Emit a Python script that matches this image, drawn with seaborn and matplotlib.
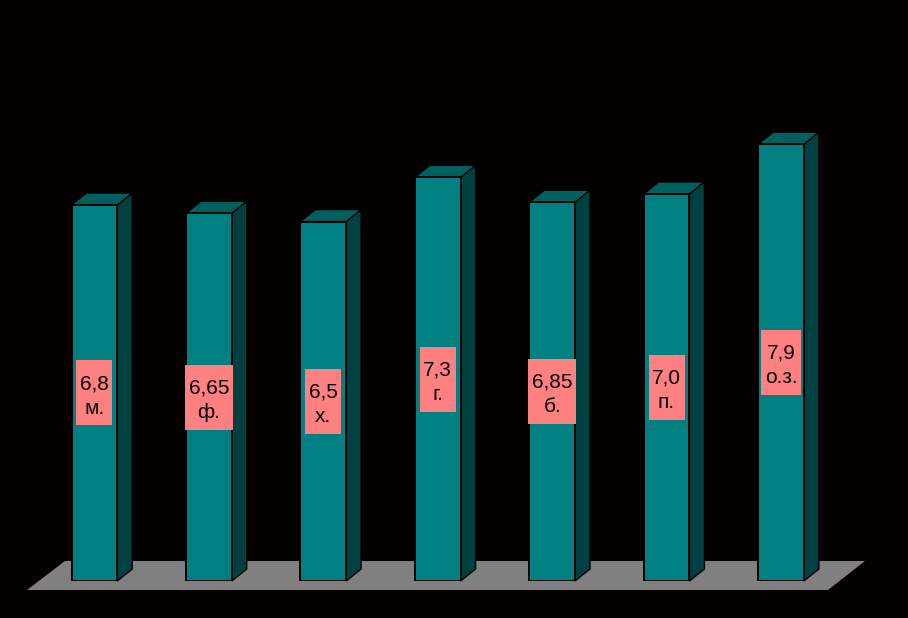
import matplotlib
matplotlib.use("Agg")
import matplotlib.pyplot as plt
import pandas as pd
import seaborn as sns
from matplotlib.patches import Polygon, Rectangle
from matplotlib.transforms import IdentityTransform

categories = ["м.", "ф.", "х.", "г.", "б.", "п.", "о.з."]
values = [6.8, 6.65, 6.5, 7.3, 6.85, 7.0, 7.9]
value_labels = ["6,8", "6,65", "6,5", "7,3", "6,85", "7,0", "7,9"]

FRONT = "#008080"
SIDE = "#004040"
TOP = "#006060"
FLOOR = "#808080"
BG = "#040000"
LABEL_BG = "#FF8080"

W, H = 908, 618
sns.set_theme(style="white", rc={"figure.facecolor": BG, "axes.facecolor": "none"})
plt.rcParams["font.family"] = ["Liberation Sans", "DejaVu Sans"]

fig = plt.figure(figsize=(W / 100, H / 100), dpi=100, facecolor=BG)

# Floor, in figure pixels
floor = Polygon([(27, H - 590), (828, H - 590), (865, H - 561), (65, H - 561)],
                closed=True, transform=None, facecolor=FLOOR, edgecolor="none", zorder=0)
fig.add_artist(floor)

ax = fig.add_axes([37.2 / W, (H - 581) / H, 801 / W, 553 / H])
df = pd.DataFrame({"cat": categories, "val": values})
sns.barplot(data=df, x="cat", y="val", width=0.4, color=FRONT, saturation=1,
            edgecolor="black", linewidth=1.4, ax=ax, zorder=3)
ax.set_xlim(-0.5, 6.5)
ax.set_ylim(0, 10)
ax.set_axis_off()

px = ax.transData.inverted()
x0, y0 = px.transform((0, 0))
x1, y1 = px.transform((15, 12))
dx, dy = x1 - x0, y1 - y0

renderer = fig.canvas.get_renderer()
for bar, txt, cat in zip(ax.patches, value_labels, categories):
    l, r = bar.get_x(), bar.get_x() + bar.get_width()
    t = bar.get_height()
    ax.add_patch(Polygon([(r, 0), (r + dx, dy), (r + dx, t + dy), (r, t)],
                         facecolor=SIDE, edgecolor="black", linewidth=1, zorder=2,
                         clip_on=False))
    ax.add_patch(Polygon([(l, t), (r, t), (r + dx, t + dy), (l + dx, t + dy)],
                         facecolor=TOP, edgecolor="black", linewidth=1, zorder=2,
                         clip_on=False))
    label = ax.annotate(f"{txt}\n{cat}", xy=((l + r) / 2, t / 2), xytext=(0, -3),
                        textcoords="offset pixels", ha="center", va="center",
                        fontsize=15, color="black", linespacing=1.38, zorder=5)
    ext = label.get_window_extent(renderer)
    cx, cy = ax.transData.transform(((l + r) / 2, t / 2))
    box_w = ext.width + 7
    box_h = 65
    ax.add_patch(Rectangle((cx - box_w / 2, cy - box_h / 2), box_w, box_h,
                           transform=IdentityTransform(), facecolor=LABEL_BG,
                           edgecolor="none", zorder=4))

fig.savefig("out.png", dpi=100, facecolor=BG)
